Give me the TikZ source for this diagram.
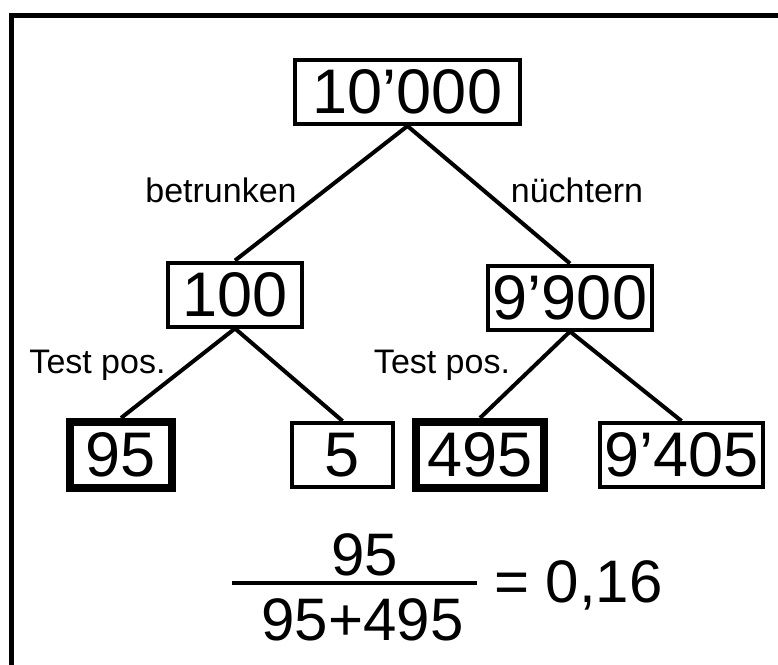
\documentclass[tikz,border=0pt]{standalone}
\usepackage{fontspec}
\setmainfont{Liberation Sans}
\tikzset{
  box/.style={draw, line width=4pt, inner sep=0pt, minimum height=64pt, font=\fontsize{63}{70}\selectfont},
  hit/.style={box, line width=8pt, minimum height=66pt},
  lbl/.style={font=\fontsize{34}{40}\selectfont, inner sep=0pt, anchor=base},
  frac/.style={font=\fontsize{60}{70}\selectfont, inner sep=0pt, anchor=base}
}
\begin{document}
\begin{tikzpicture}[x=1pt, y=-1pt, line width=4pt]
    \useasboundingbox (0,0) rectangle (778,664);
    \draw[line width=5pt] (11.5,15) rectangle (800,700);
    \node[box, minimum width=225pt] (all) at (407.5,92) {10’000};
    \node[box, minimum width=134pt] (drunk) at (235,294.5) {100};
    \node[box, minimum width=164pt] (sober) at (570,297.5) {9’900};
    \node[hit, minimum width=102pt] (dpos) at (121,455) {95};
    \node[box, minimum width=101pt] (dneg) at (342.5,455) {5};
    \node[hit, minimum width=128pt] (spos) at (480,455) {495};
    \node[box, minimum width=163pt] (sneg) at (681.5,455) {9’405};
    \draw (all.south) -- (drunk.north);
    \draw (all.south) -- (sober.north);
    \draw (drunk.south) -- (dpos.north);
    \draw (drunk.south) -- (dneg.north);
    \draw (sober.south) -- (spos.north);
    \draw (sober.south) -- (sneg.north);
    \node[lbl] (lb) at (221,202) {betrunken};
    \node[lbl] (ln) at (577,202) {nüchtern};
    \node[lbl] (ld) at (97.5,373) {Test pos.};
    \node[lbl] (ls) at (442,373) {Test pos.};
    \node[frac] (num) at (364.5,575) {95};
    \node[frac] (den) at (362.5,640) {95+495};
    \coordinate (bl) at (232,583);
    \coordinate (br) at (477,583);
    \draw[line width=4.5pt] (bl) -- (br);
    \node[frac, anchor=base west] (res) at (492,602) {= 0,16};
\end{tikzpicture}
\end{document}
